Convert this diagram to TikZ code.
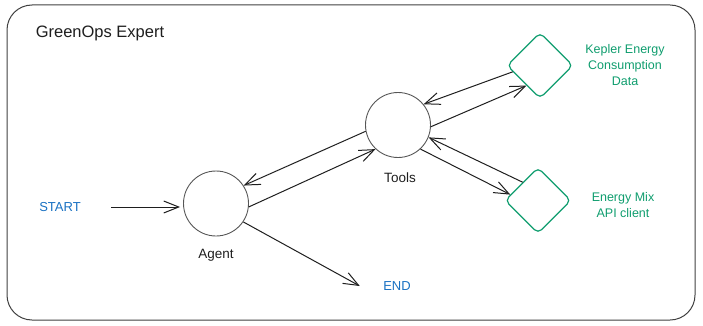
\documentclass[tikz,border=0pt]{standalone}
\usepackage{fontspec}
\setmainfont{Liberation Sans}
\usetikzlibrary{shapes.geometric,arrows.meta}
\definecolor{ink}{HTML}{1E1E1E}
\definecolor{tgreen}{HTML}{0F9D6E}
\definecolor{tblue}{HTML}{1971C2}
\begin{document}
\begin{tikzpicture}[x=1pt,y=-1pt,
  frame/.style={draw=ink!85,line width=1pt,rounded corners=25pt,minimum width=688pt,minimum height=315pt,inner sep=0pt},
  state/.style={circle,draw=ink!75,line width=0.9pt,minimum size=65pt,inner sep=0pt},
  tool/.style={diamond,draw=tgreen,line width=1.2pt,minimum width=66pt,minimum height=66pt,inner sep=0pt,rounded corners=5pt},
  title/.style={font=\fontsize{16.5}{18}\selectfont,text=ink},
  lbl/.style={font=\fontsize{13.5}{15}\selectfont,text=ink},
  glbl/.style={font=\fontsize{12.5}{16}\selectfont,text=tgreen,align=center},
  blbl/.style={font=\fontsize{13}{15}\selectfont,text=tblue},
  conn/.style={draw=ink,line width=1pt,-{Straight Barb[length=15pt,width=12pt,line width=1pt]}},
]
\useasboundingbox (0,0) rectangle (703,326);
\node[frame] (frame) at (351,162.5) {};
\node[title] (title) at (100,33) {GreenOps Expert};

\node[state] (agent) at (216,203.5) {};
\node[lbl] (agentl) at (216,255) {Agent};
\node[state] (tools) at (398,125) {};
\node[lbl] (toolsl) at (400,178) {Tools};

\node[tool] (kepler) at (540,65.5) {};
\node[glbl] (keplerl) at (625,65) {Kepler Energy\\Consumption\\Data};
\node[tool] (emix) at (538,200.5) {};
\node[glbl] (emixl) at (623,205.5) {Energy Mix\\API client};

\node[blbl] (start) at (60,207) {START};
\node[blbl] (endn) at (397,286) {END};

\draw[conn] ([xshift=27pt]start.east) -- ([xshift=-3pt]start.east -| agent.west);
\draw[conn] (agent.-6) -- (tools.227);
\draw[conn] (tools.191) -- (agent.33);
\draw[conn] (tools.-3) -- (kepler.236);
\draw[conn] (kepler.193) -- (tools.39);
\draw[conn] (tools.-47) -- (emix.168);
\draw[conn] (emix.130) -- (tools.-22);
\draw[conn] (agent.-34) -- ([xshift=-20pt]endn.west);
\end{tikzpicture}
\end{document}
